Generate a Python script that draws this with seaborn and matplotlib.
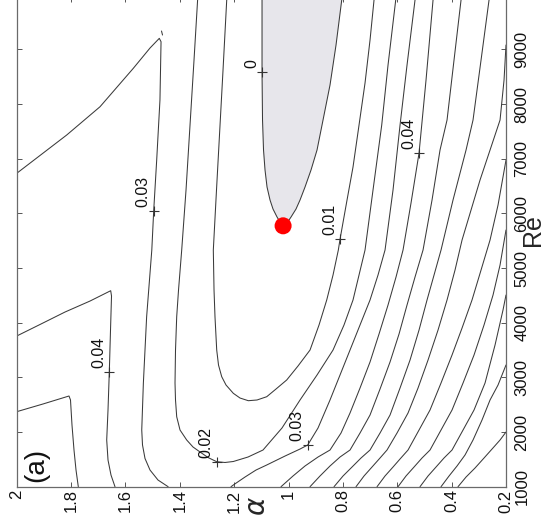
import matplotlib
matplotlib.use("Agg")
import matplotlib.pyplot as plt
import pandas as pd
import seaborn as sns

# ---------------- data: traced iso-lines of the growth/decay rate in the (alpha, Re) plane
# neutral curve (level 0): upper branch down to the nose, then lower branch back up
neutral_alpha = [1.0975, 1.0975, 1.0957, 1.0920, 1.0865, 1.0791, 1.0681, 1.0571, 1.0423, 1.0313, 1.0200,
                 1.0056, 0.9908, 0.9725, 0.9577, 0.9393, 0.9173, 0.8952, 0.8731, 0.8474, 0.8253, 0.8043, 0.8000]
neutral_re = [10000, 8585, 7707, 7158, 6793, 6482, 6244, 6079, 5933, 5841, 5772,
              5823, 5933, 6079, 6244, 6482, 6793, 7158, 7707, 8347, 9079, 9902, 10000]

c001_alpha = [1.2245, 1.2274, 1.241, 1.252, 1.265, 1.2767, 1.2741, 1.2705, 1.2642, 1.2576, 1.2458, 1.230,
              1.2031, 1.1785, 1.1479, 1.1159, 1.0802, 1.046, 1.0067, 0.9651, 0.9209, 0.8878, 0.8595, 0.8363,
              0.8168, 0.8106, 0.7848, 0.7628, 0.7407, 0.7186, 0.7002, 0.6855, 0.6818]
c001_re = [10000, 9902, 8620, 7614, 6427, 5329, 4598, 4104, 3500, 3225, 3012, 2860,
           2708, 2622, 2573, 2586, 2646, 2787, 2952, 3208, 3500, 3958, 4415, 4872,
           5329, 5525, 6244, 6847, 7614, 8384, 9170, 9902, 10000]

c002_alpha = [1.333, 1.3345, 1.3477, 1.3624, 1.3771, 1.393, 1.4047, 1.4114, 1.4158, 1.4176, 1.4158, 1.4114,
              1.3992, 1.3746, 1.3514, 1.3256, 1.2962, 1.2642, 1.2337, 1.2031, 1.149, 1.0939, 1.024, 0.9577,
              0.8952, 0.8363, 0.7959, 0.7628, 0.7407, 0.7186, 0.6892, 0.6572, 0.634, 0.6057, 0.6027]
c002_re = [10000, 9902, 8804, 7614, 6427, 5329, 4598, 4109, 3500, 2897, 2586, 2280,
           2037, 1854, 1726, 1635, 1534, 1457, 1443, 1461, 1543, 1671, 2074, 2586,
           3043, 3500, 3958, 4415, 4872, 5329, 6427, 7614, 8712, 9902, 10000]

c003r_alpha = [1.2116, 1.2031, 1.1601, 1.1196, 1.0802, 1.0129, 0.9577, 0.9294, 0.8915, 0.8474, 0.8106,
               0.7738, 0.737, 0.7002, 0.6708, 0.645, 0.6156, 0.5898, 0.5641, 0.5347, 0.5321]
c003r_re = [1000, 1031, 1177, 1305, 1397, 1561, 1689, 1763, 2074, 2586, 3043,
            3500, 3958, 4415, 4872, 5329, 6427, 7614, 8712, 9902, 10000]

c003l_alpha = [2.0, 1.816, 1.6935, 1.571, 1.5096, 1.4754, 1.469, 1.473, 1.485, 1.496, 1.503, 1.522, 1.534,
               1.540, 1.5372, 1.528, 1.5096, 1.4802, 1.443]
c003l_re = [6732, 7433, 7950, 8653, 9024, 9201, 9139, 8073, 6976, 6048, 5329, 4109, 2897,
            2037, 1763, 1516, 1305, 1122, 1000]
spur_alpha = [1.4673, 1.4636]
spur_re = [9335, 9262]

c004l_alpha = [2.0, 1.9143, 1.8223, 1.7303, 1.6542, 1.6512, 1.6549, 1.6593, 1.6641, 1.6689, 1.6641, 1.6531, 1.6384]
c004l_re = [3756, 3967, 4195, 4396, 4585, 4488, 3866, 3103, 2403, 1854, 1488, 1213, 1000]

c005l_alpha = [2.0, 1.9032, 1.8076, 1.8021, 1.7966, 1.7892, 1.7818, 1.7734]
c005l_re = [2372, 2513, 2659, 2586, 2128, 1671, 1305, 1000]

c004r_alpha = [1.0276, 0.9835, 0.9393, 0.8915, 0.8474, 0.8069, 0.7738, 0.737, 0.7002, 0.6671, 0.634,
               0.6046, 0.5788, 0.5494, 0.5199, 0.4942, 0.4684, 0.4647]
c004r_re = [1000, 1196, 1379, 1543, 1671, 1982, 2348, 2805, 3281, 3793, 4323,
            4835, 5329, 6189, 7103, 8438, 9902, 9950]

c005r_alpha = [0.9209, 0.8842, 0.8474, 0.8106, 0.7738, 0.737, 0.7002, 0.6634, 0.6266, 0.5935, 0.5641,
               0.5347, 0.5052, 0.4721, 0.4427, 0.4169, 0.3912, 0.3654, 0.3617]
c005r_re = [1000, 1196, 1379, 1543, 1671, 1982, 2311, 2787, 3281, 3793, 4323,
            4835, 5329, 6244, 7158, 7707, 8804, 9902, 9950]

c006_alpha = [0.8326, 0.7995, 0.7664, 0.7333, 0.7002, 0.6634, 0.6266, 0.5898, 0.553, 0.5199, 0.4905,
              0.4647, 0.439, 0.3949, 0.347, 0.3213, 0.2918, 0.2624, 0.2587]
c006_re = [1000, 1196, 1360, 1525, 1671, 1982, 2311, 2805, 3317, 3866, 4415,
           4872, 5329, 6244, 7158, 7707, 8804, 9902, 9950]

c007_alpha = [0.7517, 0.7223, 0.6929, 0.6634, 0.6377, 0.6009, 0.5604, 0.5236, 0.4868, 0.45, 0.4169,
              0.3875, 0.3617, 0.3286, 0.2955, 0.2587, 0.2219, 0.2072, 0.2]
c007_re = [1000, 1196, 1360, 1525, 1671, 1982, 2348, 2805, 3317, 3866, 4415,
           4963, 5512, 6061, 6610, 7158, 7707, 8439, 9079]

c008_alpha = [0.6744, 0.645, 0.6156, 0.5898, 0.5604, 0.5199, 0.4795, 0.439, 0.3985, 0.3617, 0.325,
              0.2918, 0.2587, 0.2293, 0.2]
c008_re = [1000, 1196, 1360, 1507, 1671, 2037, 2403, 2897, 3409, 3902, 4415,
           4963, 5512, 6152, 6975]

c009_alpha = [0.5972, 0.5678, 0.5383, 0.5089, 0.4795, 0.439, 0.3985, 0.358, 0.3176, 0.2808, 0.2477, 0.2219, 0.2]
c009_re = [1000, 1196, 1360, 1525, 1671, 2037, 2403, 2897, 3409, 3958, 4506, 5055, 5695]

c010_alpha = [0.5163, 0.4868, 0.4574, 0.428, 0.3985, 0.358, 0.3176, 0.2771, 0.2403, 0.211, 0.2]
c010_re = [1000, 1196, 1360, 1525, 1671, 2037, 2403, 2897, 3592, 4232, 4506]

c011_alpha = [0.439, 0.4095, 0.3801, 0.3507, 0.3213, 0.2882, 0.2587, 0.2293, 0.2]
c011_re = [1000, 1196, 1379, 1580, 1854, 2220, 2586, 2860, 3226]

c012_alpha = [0.3765, 0.347, 0.3139, 0.2808, 0.2514, 0.2219, 0.2]
c012_re = [1000, 1177, 1342, 1525, 1689, 1854, 2000]

# inline contour labels
label_text = ["0", "0.01", "0.02", "0.03", "0.03", "0.04", "0.04"]
label_alpha = [1.0975, 0.8106, 1.2642, 1.4960, 0.9294, 1.6593, 0.5199]
label_re = [8590, 5525, 1457, 6048, 1763, 3103, 7103]

# critical point of the neutral curve
crit_alpha = [1.02]
crit_re = [5772]

alpha_ticks = [2.0, 1.8, 1.6, 1.4, 1.2, 1.0, 0.8, 0.6, 0.4, 0.2]
re_ticks = [1000, 2000, 3000, 4000, 5000, 6000, 7000, 8000, 9000]

# ---------------- assemble a long table of polylines
paths = [
    ("neutral", neutral_alpha, neutral_re),
    ("c001", c001_alpha, c001_re),
    ("c002", c002_alpha, c002_re),
    ("c003r", c003r_alpha, c003r_re),
    ("c003l", c003l_alpha, c003l_re),
    ("spur", spur_alpha, spur_re),
    ("c004l", c004l_alpha, c004l_re),
    ("c005l", c005l_alpha, c005l_re),
    ("c004r", c004r_alpha, c004r_re),
    ("c005r", c005r_alpha, c005r_re),
    ("c006", c006_alpha, c006_re),
    ("c007", c007_alpha, c007_re),
    ("c008", c008_alpha, c008_re),
    ("c009", c009_alpha, c009_re),
    ("c010", c010_alpha, c010_re),
    ("c011", c011_alpha, c011_re),
    ("c012", c012_alpha, c012_re),
]
rows = []
for name, a_vals, r_vals in paths:
    for i, (a, r) in enumerate(zip(a_vals, r_vals)):
        rows.append({"path": name, "order": i, "alpha": a, "Re": r})
lines = pd.DataFrame(rows)

# ---------------- figure
sns.set_theme(style="white")
plt.rcParams["font.family"] = ["Liberation Sans", "DejaVu Sans"]

W, H = 548, 531
fig = plt.figure(figsize=(W / 100, H / 100), dpi=100)
ax = fig.add_axes([16.7 / W, (H - 486.7) / H, 489.3 / W, 489.3 / H])
ax.set_xlim(2.0, 0.2)
ax.set_ylim(1000, 9950)

# unstable region
ax.fill(neutral_alpha, neutral_re, color="#e7e6eb", zorder=1, lw=0)

sns.lineplot(data=lines, x="alpha", y="Re", units="path", estimator=None, sort=False,
             color="#3a3a3a", linewidth=0.75, ax=ax, zorder=2)

sns.scatterplot(x=label_alpha, y=label_re, marker="+", s=45, color="#333333",
                linewidth=0.8, ax=ax, zorder=3)
for t, a, r in zip(label_text, label_alpha, label_re):
    ax.annotate(t, (a, r), xytext=(-3, 4), textcoords="offset pixels", rotation=90,
                ha="right", va="bottom", fontsize=11.5, color="#111111", zorder=4)

sns.scatterplot(x=crit_alpha, y=crit_re, color="#ff0000", s=150, edgecolor="none", ax=ax, zorder=5)

# axes cosmetics
ax.set_xticks(alpha_ticks)
ax.set_xticklabels([f"{v:g}" for v in alpha_ticks])
ax.set_yticks(re_ticks)
ax.set_yticklabels([str(v) for v in re_ticks])
ax.yaxis.tick_right()
ax.tick_params(direction="in", length=3.6, width=0.7, color="#555555",
               top=True, bottom=True, left=True, right=True,
               labelleft=False, labelright=True, labelsize=12, labelcolor="#111111")
ax.tick_params(axis="x", labelrotation=90, pad=2)
ax.tick_params(axis="y", labelrotation=90, pad=6)
for lab in ax.get_yticklabels():
    lab.set_va("center")
    lab.set_ha("left")
for sp in ax.spines.values():
    sp.set_color("#6a6a6a")
    sp.set_linewidth(0.9)

ax.set_xlabel(r"$\alpha$", fontsize=20, rotation=90)
ax.xaxis.set_label_coords(0.493, -0.0405)
ax.xaxis.label.set_va("center")
ax.set_ylabel("Re", fontsize=18, rotation=90)
ax.yaxis.set_label_position("right")
ax.yaxis.set_label_coords(1.056, 0.525)
ax.yaxis.label.set_va("center")
ax.yaxis.label.set_ha("center")

ax.text(0.039, 0.0443, "(a)", transform=ax.transAxes, rotation=90,
        ha="center", va="center", fontsize=20, color="#111111")

fig.savefig("out.png", dpi=100)
